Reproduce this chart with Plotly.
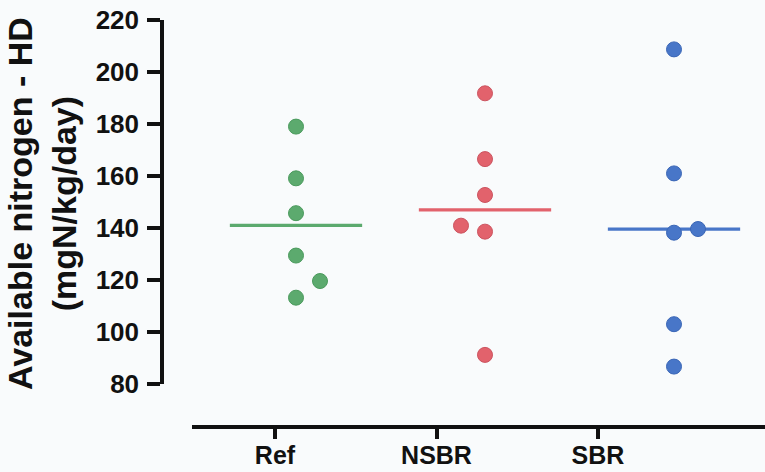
import numpy as np
import plotly.graph_objects as go

# Available nitrogen (HD), mgN/kg/day, per group
categories = ["Ref", "NSBR", "SBR"]
ref_values = [179.0, 159.1, 145.7, 129.4, 119.6, 113.2]
nsbr_values = [191.8, 166.5, 152.7, 140.9, 138.6, 91.2]
sbr_values = [208.7, 161.0, 138.2, 139.6, 103.0, 86.7]
y_ticks = [80, 100, 120, 140, 160, 180, 200, 220]

groups = [ref_values, nsbr_values, sbr_values]
colors = ["#5caa6e", "#e2626c", "#4876c8"]
edge_colors = ["#4a9a5c", "#cc5460", "#3a66b6"]
spread_side = [1, -1, 1]          # which way colliding dots are nudged

W, H = 765, 472
AXIS = "#111111"
FONT = "Liberation Sans, Arial, sans-serif"


def px_x(p):
    return p / W


def px_y(p):
    return 1 - p / H


def swarm_offsets(values, side, min_gap=7.0, step=0.127):
    """Simple beeswarm: dots closer than min_gap (data units) get pushed sideways."""
    order = np.argsort(values)
    placed = []
    offs = [0.0] * len(values)
    for idx in order:
        v = values[idx]
        k = 0
        while True:
            o = side * step * k
            if all(abs(v - pv) >= min_gap or abs(o - po) > 1e-9 for pv, po in placed):
                break
            k += 1
        offs[idx] = o
        placed.append((v, o))
    return offs


fig = go.Figure()

half_width = 0.35
for i, (vals, col) in enumerate(zip(groups, colors)):
    m = float(np.mean(vals))
    fig.add_trace(go.Scatter(
        x=[i - half_width, i + half_width], y=[m, m], mode="lines",
        line=dict(color=col, width=3.2), showlegend=False, hoverinfo="skip",
        xaxis="x", yaxis="y",
    ))

for i, (vals, col, ecol, side) in enumerate(zip(groups, colors, edge_colors, spread_side)):
    offs = swarm_offsets(vals, side)
    fig.add_trace(go.Scatter(
        x=[i + o for o in offs], y=vals, mode="markers",
        marker=dict(color=col, size=15, line=dict(color=ecol, width=1)),
        showlegend=False, name=categories[i], xaxis="x", yaxis="y",
    ))

# category axis carrying the group labels
fig.add_trace(go.Scatter(
    x=categories, y=[None] * len(categories), mode="markers",
    showlegend=False, hoverinfo="skip", xaxis="x2", yaxis="y",
))

fig.update_layout(
    width=W, height=H,
    margin=dict(l=0, r=0, t=0, b=0, autoexpand=False),
    paper_bgcolor="#f9fbfc", plot_bgcolor="rgba(0,0,0,0)",
    font=dict(family=FONT, color=AXIS),
    xaxis=dict(
        domain=[px_x(162), 1], range=[(162 - 296) / 189, (765 - 296) / 189],
        visible=False, anchor="y", fixedrange=True, automargin=False,
    ),
    xaxis2=dict(
        domain=[px_x(192), 1], type="category", categoryorder="array",
        categoryarray=categories,
        range=[-(275 - 192) / 161.5, (765 - 275) / 161.5],
        anchor="free", position=px_y(427), automargin=False,
        showline=True, linecolor=AXIS, linewidth=3.5,
        ticks="outside", ticklen=10, tickwidth=3.5, tickcolor=AXIS,
        ticklabelstandoff=-5,
        tickfont=dict(family=FONT, size=25, color=AXIS, weight="bold"),
        showgrid=False, zeroline=False,
    ),
    yaxis=dict(
        domain=[px_y(384), px_y(20)], range=[80, 220],
        anchor="free", position=px_x(162), side="left", automargin=False,
        showline=True, linecolor=AXIS, linewidth=3.5,
        ticks="outside", ticklen=13, tickwidth=3.5, tickcolor=AXIS,
        tickvals=y_ticks, ticklabelstandoff=3,
        tickfont=dict(family=FONT, size=26, color=AXIS, weight="bold"),
        showgrid=False, zeroline=False,
    ),
    annotations=[dict(
        text="Available nitrogen - HD<br>(mgN/kg/day)",
        xref="paper", yref="paper", x=px_x(42), y=px_y(204),
        textangle=-90, showarrow=False, xanchor="center", yanchor="middle",
        font=dict(family=FONT, size=34, color=AXIS, weight="bold"),
    )],
)

fig.write_html("out.html")
